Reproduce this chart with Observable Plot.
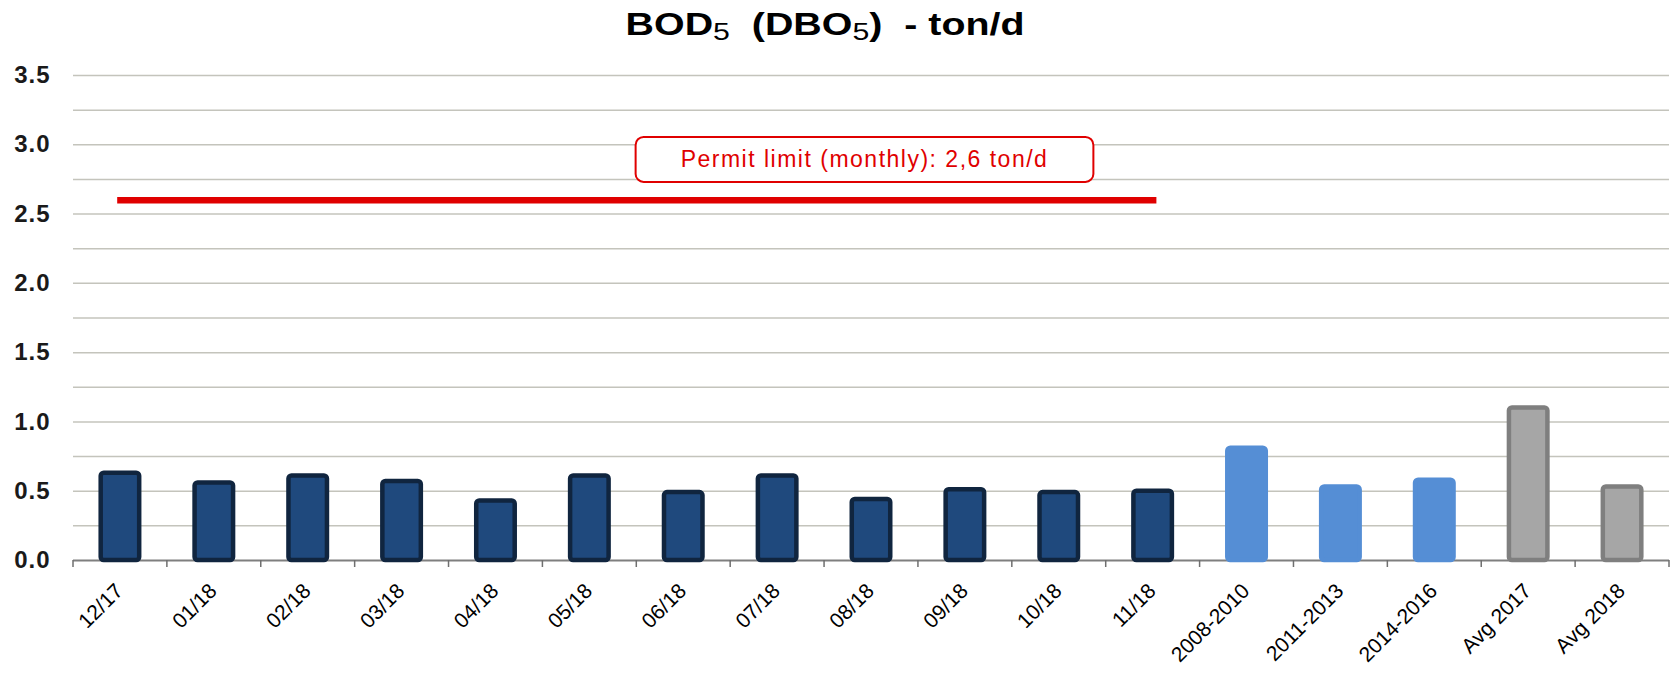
<!DOCTYPE html>
<html>
<head>
<meta charset="utf-8">
<script src="https://cdn.jsdelivr.net/npm/d3@7"></script>
<script src="https://cdn.jsdelivr.net/npm/@observablehq/plot@0.6"></script>
<style>
  body { margin: 0; background: #fff; font-family: "Liberation Sans", Arial, sans-serif; }
  #title { width: 1677px; height: 50px; line-height: 50px; box-sizing: border-box; padding-right: 27px;
           text-align: center; font-weight: bold; font-size: 31px; color: #000; white-space: pre; }
  #title span { display: inline-block; transform: scaleX(1.27); transform-origin: center; }
  #title sub { font-size: 0.77em; font-weight: normal; line-height: 0; vertical-align: -0.22em; }
  svg [aria-label="y-axis tick label"], svg [aria-label="y-axis tick label"] text {
    font-weight: bold; font-size: 24px; fill: #1A1A1A; letter-spacing: 1px; }
  svg [aria-label="x-axis tick label"], svg [aria-label="x-axis tick label"] text {
    font-size: 21px; fill: #000; }
</style>
</head>
<body>
<div id="title"><span>BOD<sub>5</sub>  (DBO<sub>5</sub>)  - ton/d</span></div>
<div id="chart"></div>
<script>
// ---- data ----
const categories = ["12/17", "01/18", "02/18", "03/18", "04/18", "05/18", "06/18", "07/18", "08/18", "09/18", "10/18", "11/18",
                    "2008-2010", "2011-2013", "2014-2016", "Avg 2017", "Avg 2018"];
const values = [0.63, 0.56, 0.61, 0.57, 0.43, 0.61, 0.49, 0.61, 0.44, 0.51, 0.49, 0.50,
                0.81, 0.53, 0.58, 1.10, 0.53];
const groups = ["month", "month", "month", "month", "month", "month", "month", "month", "month", "month", "month", "month",
                "period", "period", "period", "average", "average"];
const yTicks = [0, 0.5, 1, 1.5, 2, 2.5, 3, 3.5];
const gridValues = [0.25, 0.5, 0.75, 1, 1.25, 1.5, 1.75, 2, 2.25, 2.5, 2.75, 3, 3.25, 3.5];
const permitLimit = 2.6;
const permitFrom = "12/17";
const permitTo = "11/18";
const permitLabel = "Permit limit (monthly): 2,6 ton/d";
const permitLabelX = "08/18";
const permitLabelY = 2.89;

// ---- styles ----
const fillOf = {month: "#1F497D", period: "#558ED5", average: "#A6A6A6"};
const strokeOf = {month: "#10253F", period: "#558ED5", average: "#7F7F7F"};
const red = "#E00000";

const data = categories.map((c, i) => ({category: c, value: values[i], group: groups[i]}));
const permitLine = [{x: permitFrom, y: permitLimit}, {x: permitTo, y: permitLimit}];
const labelData = [{x: permitLabelX, y: permitLabelY, text: permitLabel}];

const plot = Plot.plot({
  width: 1677,
  height: 624,
  marginTop: 25,
  marginBottom: 114,
  marginLeft: 73,
  marginRight: 8,
  style: {fontFamily: "'Liberation Sans', Arial, sans-serif", background: "#fff", color: "#000"},
  x: {domain: categories, paddingInner: 0.59, paddingOuter: 0.295, round: false, label: null},
  y: {domain: [0, 3.5], label: null},
  color: {type: "identity"},
  marks: [
    Plot.ruleY(gridValues, {stroke: "#C4C4BC", strokeWidth: 1.5}),
    Plot.ruleY([0], {stroke: "#7F7F7F", strokeWidth: 2}),
    Plot.barY(data, {x: "category", y: "value", fill: d => fillOf[d.group], stroke: d => strokeOf[d.group],
                     strokeWidth: 4.5, strokeLinejoin: "round", rx: 3}),
    Plot.lineY(permitLine, {x: "x", y: "y", stroke: red, strokeWidth: 6.5, strokeLinecap: "square"}),
    Plot.text(labelData, {x: "x", y: "y", text: "text", fill: red, fontSize: 23, dx: -7,
                          fontFamily: "'Liberation Sans', Arial, sans-serif"}),
    Plot.axisY({ticks: yTicks, tickFormat: d => d.toFixed(1), tickSize: 0, tickPadding: 23,
                fontSize: 24, fontWeight: "bold", fill: "#1A1A1A", label: null}),
    Plot.axisX({tickRotate: -45, tickSize: 0, tickPadding: 27, dx: -1, fontSize: 21, fill: "#000", label: null})
  ]
});

document.getElementById("chart").appendChild(plot);

// ---- decorations derived from the plot's own scales ----
const svg = d3.select(plot);
const xs = plot.scale("x");
const ys = plot.scale("y");
const y0 = ys.apply(0);
const half = (xs.step - xs.bandwidth) / 2;
const bounds = categories.map(c => xs.apply(c) - half);
bounds.push(bounds[bounds.length - 1] + xs.step);
const tickG = svg.append("g").attr("stroke", "#6F6F6F").attr("stroke-width", 1.5);
bounds.forEach(b => tickG.append("line").attr("x1", b).attr("x2", b).attr("y1", y0).attr("y2", y0 + 7));

// annotation box around the permit label
const svgNode = svg.node();
const labelNode = Array.from(svgNode.querySelectorAll("text")).find(t => t.textContent === permitLabel);
if (labelNode) {
  labelNode.style.letterSpacing = "1.5px";
  const sr = svgNode.getBoundingClientRect();
  const r = labelNode.getBoundingClientRect();
  const cx = r.left - sr.left + r.width / 2;
  const cy = r.top - sr.top + r.height / 2;
  const w = r.width + 90, h = 45;
  const rect = document.createElementNS("http://www.w3.org/2000/svg", "rect");
  rect.setAttribute("x", cx - w / 2);
  rect.setAttribute("y", cy - h / 2);
  rect.setAttribute("width", w);
  rect.setAttribute("height", h);
  rect.setAttribute("rx", 8);
  rect.setAttribute("fill", "#fff");
  rect.setAttribute("stroke", red);
  rect.setAttribute("stroke-width", 2);
  const g = labelNode.closest("g");
  g.parentNode.insertBefore(rect, g);
}
</script>
</body>
</html>
